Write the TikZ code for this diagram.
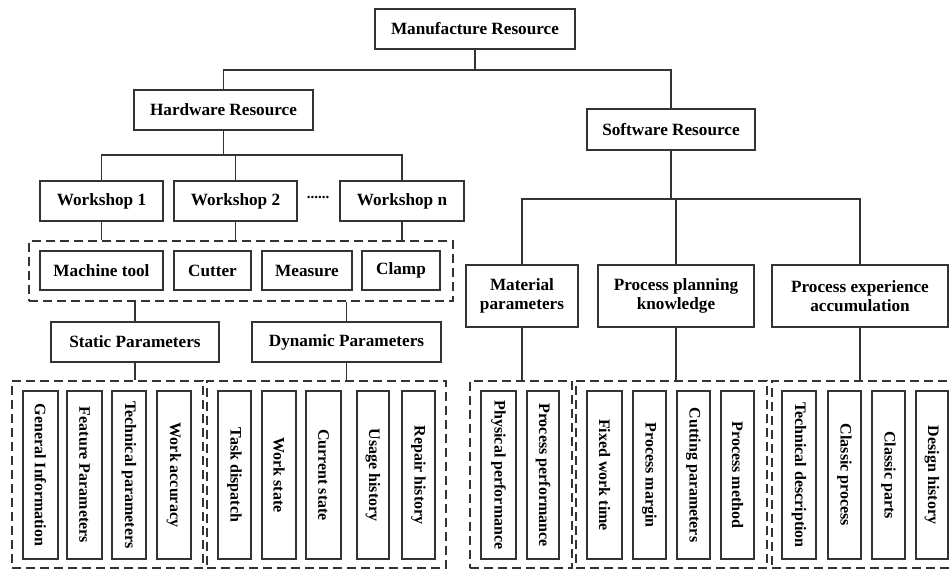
\documentclass[tikz,border=0pt]{standalone}
\usepackage{fontspec}
\setmainfont{Liberation Serif}
\begin{document}
\begin{tikzpicture}[x=1pt,y=-1pt,
  line/.style={draw=black!80,line width=1.2pt},
  box/.style={line,rectangle,inner sep=0pt,align=center,font=\bfseries\fontsize{17.2}{19.5}\selectfont},
  vbox/.style={line,rectangle,inner sep=0pt,rotate=-90,minimum width=168,font=\bfseries\fontsize{16}{18}\selectfont},
  dbox/.style={draw=black!80,line width=2.2pt,dash pattern=on 9pt off 5pt,rectangle,inner sep=0pt},
]
\useasboundingbox (0,0) rectangle (951,569);
% top level
\node[box,minimum width=200,minimum height=40] (man) at (475,29) {Manufacture Resource};
\node[box,minimum width=179,minimum height=40] (hw) at (223.5,110) {Hardware Resource};
\node[box,minimum width=168,minimum height=41] (sw) at (671,129.5) {Software Resource};
\coordinate (bus0) at (0,70);
\draw[line] (man.south) -- (man.south |- bus0) -| (hw.north);
\draw[line] (man.south |- bus0) -| (sw.north);
% workshops
\node[box,minimum width=123,minimum height=40] (ws1) at (101.5,201) {Workshop 1};
\node[box,minimum width=123,minimum height=40] (ws2) at (235.5,201) {Workshop 2};
\node[box,minimum width=124,minimum height=40] (wsn) at (402,201) {Workshop n};
\node[font=\bfseries\fontsize{15}{16}\selectfont,inner sep=0pt] (dots) at (318,197.5) {......};
\coordinate (bus1) at (0,155);
\draw[line] (hw.south) -- (hw.south |- bus1) -| (ws1.north);
\draw[line] (hw.south |- bus1) -| (ws2.north);
\draw[line] (hw.south |- bus1) -| (wsn.north);
% tools group
\node[dbox,minimum width=424,minimum height=60] (tools) at (241,271) {};
\node[box,minimum width=123,minimum height=39] (mt) at (101.5,270.5) {Machine tool};
\node[box,minimum width=77,minimum height=39] (cut) at (212.5,270.5) {Cutter};
\node[box,minimum width=90,minimum height=39] (mea) at (307,270.5) {Measure};
\node[box,minimum width=78,minimum height=39] (cla) at (401,270.5) {Clamp};
\draw[line] (ws1.south) -- (ws1.south |- tools.north);
\draw[line] (ws2.south) -- (ws2.south |- tools.north);
\draw[line] (wsn.south) -- (wsn.south |- tools.north);
% parameters
\node[box,minimum width=168,minimum height=40] (stat) at (135,342) {Static Parameters};
\node[box,minimum width=189,minimum height=40] (dyn) at (346.5,342) {Dynamic Parameters};
\draw[line] (tools.south -| stat.north) -- (stat.north);
\draw[line] (tools.south -| dyn.north) -- (dyn.north);
% lower left groups
\node[dbox,minimum width=191,minimum height=187] (g1) at (107.5,474.5) {};
\node[dbox,minimum width=239,minimum height=187] (g2) at (326.5,474.5) {};
\draw[line] (stat.south) -- (stat.south |- g1.north);
\draw[line] (dyn.south) -- (dyn.south |- g2.north);
\node[vbox,minimum height=35] (gi) at (40.5,475) {General Information};
\node[vbox,minimum height=35] (fp) at (84.5,475) {Feature Parameters};
\node[vbox,minimum height=34] (tp) at (129,475) {Technical parameters};
\node[vbox,minimum height=34] (wa) at (174,475) {Work accuracy};
\node[vbox,minimum height=33] (td) at (234.5,475) {Task dispatch};
\node[vbox,minimum height=34] (wst) at (279,475) {Work state};
\node[vbox,minimum height=35] (cs) at (323.5,475) {Current state};
\node[vbox,minimum height=32] (uh) at (373,475) {Usage history};
\node[vbox,minimum height=33] (rh) at (418.5,475) {Repair history};
% software branch
\node[box,minimum width=112,minimum height=62] (mat) at (522,296) {Material\\parameters};
\node[box,minimum width=156,minimum height=62] (ppk) at (676,296) {Process planning\\knowledge};
\node[box,minimum width=176,minimum height=62] (pea) at (860,296) {Process experience\\accumulation};
\coordinate (bus2) at (0,199);
\draw[line] (sw.south) -- (sw.south |- bus2);
\draw[line] (mat.north) |- (pea.north |- bus2) -- (pea.north);
\draw[line] (ppk.north) -- (ppk.north |- bus2);
% lower right groups
\node[dbox,minimum width=102,minimum height=187] (g3) at (521,474.5) {};
\node[dbox,minimum width=191,minimum height=187] (g4) at (671.5,474.5) {};
\node[dbox,minimum width=190,minimum height=187] (g5) at (867,474.5) {};
\draw[line] (mat.south) -- (mat.south |- g3.north);
\draw[line] (ppk.south) -- (ppk.south |- g4.north);
\draw[line] (pea.south) -- (pea.south |- g5.north);
\node[vbox,minimum height=35] (phy) at (498.5,475) {Physical performance};
\node[vbox,minimum height=32] (prp) at (543,475) {Process performance};
\node[vbox,minimum height=35] (fwt) at (604.5,475) {Fixed work time};
\node[vbox,minimum height=33] (pm) at (649.5,475) {Process margin};
\node[vbox,minimum height=33] (cp) at (693.5,475) {Cutting parameters};
\node[vbox,minimum height=33] (pme) at (737.5,475) {Process method};
\node[vbox,minimum height=34] (tde) at (799,475) {Technical description};
\node[vbox,minimum height=33] (clp) at (844.5,475) {Classic process};
\node[vbox,minimum height=33] (cpa) at (888.5,475) {Classic parts};
\node[vbox,minimum height=32] (dh) at (932,475) {Design history};
\end{tikzpicture}
\end{document}
